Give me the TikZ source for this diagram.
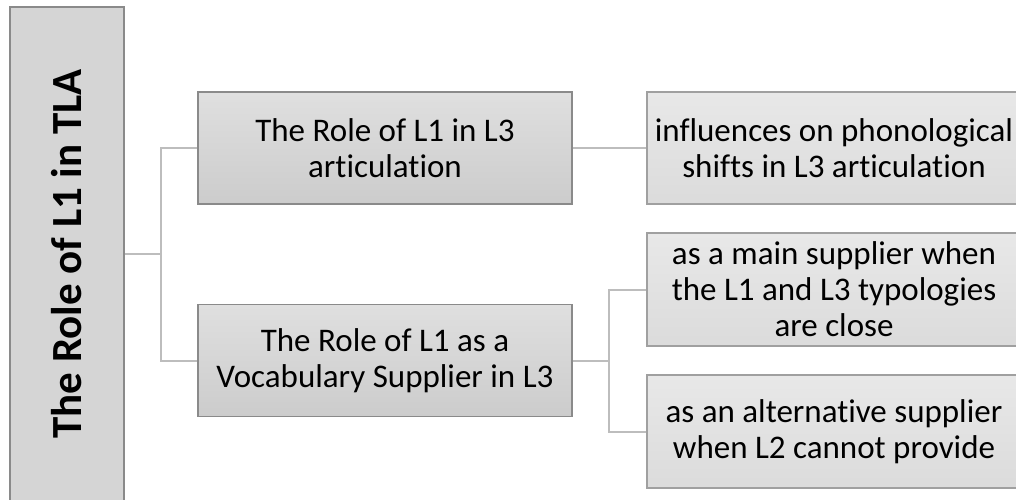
\documentclass[tikz,border=0pt]{standalone}
\usepackage{fontspec}
\setmainfont{Carlito}[Ligatures=NoCommon]
\usetikzlibrary{positioning}

\definecolor{boxline}{HTML}{8A8A8A}
\definecolor{leafline}{HTML}{A0A0A0}
\definecolor{wire}{HTML}{BDBDBD}

\begin{document}
\begin{tikzpicture}[x=1pt, y=-1pt,
		branch/.style={draw=boxline, line width=1.5pt, top color=gray!25, bottom color=gray!40, align=center,
			minimum width=374pt, minimum height=112pt, inner sep=0pt, font=\fontsize{33}{36}\selectfont},
		leaf/.style={branch, draw=leafline, top color=gray!18, bottom color=gray!28},
		link/.style={draw=wire, line width=2pt}]
		\useasboundingbox (0,0) rectangle (1016,499);
		\begin{scope}
		\clip (0,0) rectangle (1016,499);
		\node[draw=boxline, line width=1.5pt, fill=gray!33, rotate=90, minimum width=494pt, minimum height=114pt,
			inner sep=0pt, font=\bfseries\fontsize{43}{48}\selectfont] (root) at (67,254) {The Role of L1 in TLA};
		
		\node[branch] (artic) at (385,148) {The Role of L1 in L3\\articulation};
		\node[branch] (vocab) at (385,360.5) {The Role of L1 as a\\Vocabulary Supplier in L3};
		
		\node[leaf] (shift) at (834,148) {influences on phonological\\shifts in L3 articulation};
		\node[leaf, minimum height=113pt] (main) at (834,289.5) {as a main supplier when\\the L1 and L3 typologies\\are close};
		\node[leaf, minimum height=113pt] (alter) at (834,431.5) {as an alternative supplier\\when L2 cannot provide};
		
		\coordinate (j1) at (161,254);
		\coordinate (j2) at (609,360.5);
		\draw[link] (root.south) -- (j1) |- (artic.west)
			(j1) |- (vocab.west);
		\draw[link] (artic.east) -- (shift.west);
		\draw[link] (vocab.east) -- (j2) |- (main.west)
			(j2) |- (alter.west);
		\end{scope}
	\end{tikzpicture}
\end{document}
